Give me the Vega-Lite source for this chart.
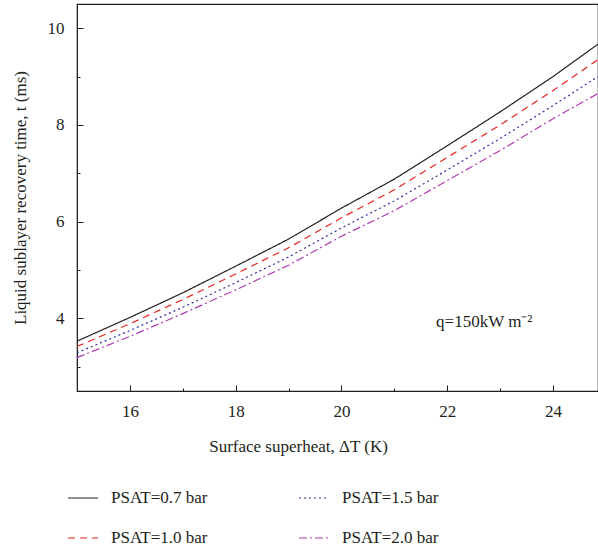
{
  "$schema": "https://vega.github.io/schema/vega-lite/v6.json",
  "autosize": "none",
  "width": 521,
  "height": 387,
  "padding": {"left": 77, "top": 4, "right": 0, "bottom": 163},
  "background": "white",
  "config": {
    "view": {"stroke": "#231f20", "strokeWidth": 1.2},
    "font": "Liberation Serif",
    "axis": {
      "labelFont": "Liberation Serif",
      "titleFont": "Liberation Serif",
      "labelFontSize": 17,
      "titleFontSize": 17,
      "titleFontWeight": "normal",
      "labelColor": "#231f20",
      "titleColor": "#231f20",
      "domainColor": "#231f20",
      "tickColor": "#231f20",
      "grid": false
    }
  },
  "data": {
    "values": [
      {"dT": 15, "t": 3.53, "series": "PSAT=0.7 bar"},
      {"dT": 16, "t": 4.02, "series": "PSAT=0.7 bar"},
      {"dT": 17, "t": 4.53, "series": "PSAT=0.7 bar"},
      {"dT": 18, "t": 5.08, "series": "PSAT=0.7 bar"},
      {"dT": 19, "t": 5.64, "series": "PSAT=0.7 bar"},
      {"dT": 20, "t": 6.28, "series": "PSAT=0.7 bar"},
      {"dT": 21, "t": 6.88, "series": "PSAT=0.7 bar"},
      {"dT": 22, "t": 7.57, "series": "PSAT=0.7 bar"},
      {"dT": 23, "t": 8.27, "series": "PSAT=0.7 bar"},
      {"dT": 24, "t": 9.0, "series": "PSAT=0.7 bar"},
      {"dT": 24.85, "t": 9.67, "series": "PSAT=0.7 bar"},
      {"dT": 15, "t": 3.42, "series": "PSAT=1.0 bar"},
      {"dT": 16, "t": 3.89, "series": "PSAT=1.0 bar"},
      {"dT": 17, "t": 4.39, "series": "PSAT=1.0 bar"},
      {"dT": 18, "t": 4.92, "series": "PSAT=1.0 bar"},
      {"dT": 19, "t": 5.46, "series": "PSAT=1.0 bar"},
      {"dT": 20, "t": 6.08, "series": "PSAT=1.0 bar"},
      {"dT": 21, "t": 6.66, "series": "PSAT=1.0 bar"},
      {"dT": 22, "t": 7.33, "series": "PSAT=1.0 bar"},
      {"dT": 23, "t": 8.0, "series": "PSAT=1.0 bar"},
      {"dT": 24, "t": 8.71, "series": "PSAT=1.0 bar"},
      {"dT": 24.85, "t": 9.35, "series": "PSAT=1.0 bar"},
      {"dT": 15, "t": 3.29, "series": "PSAT=1.5 bar"},
      {"dT": 16, "t": 3.75, "series": "PSAT=1.5 bar"},
      {"dT": 17, "t": 4.23, "series": "PSAT=1.5 bar"},
      {"dT": 18, "t": 4.74, "series": "PSAT=1.5 bar"},
      {"dT": 19, "t": 5.27, "series": "PSAT=1.5 bar"},
      {"dT": 20, "t": 5.87, "series": "PSAT=1.5 bar"},
      {"dT": 21, "t": 6.43, "series": "PSAT=1.5 bar"},
      {"dT": 22, "t": 7.07, "series": "PSAT=1.5 bar"},
      {"dT": 23, "t": 7.72, "series": "PSAT=1.5 bar"},
      {"dT": 24, "t": 8.4, "series": "PSAT=1.5 bar"},
      {"dT": 24.85, "t": 9.0, "series": "PSAT=1.5 bar"},
      {"dT": 15, "t": 3.19, "series": "PSAT=2.0 bar"},
      {"dT": 16, "t": 3.63, "series": "PSAT=2.0 bar"},
      {"dT": 17, "t": 4.1, "series": "PSAT=2.0 bar"},
      {"dT": 18, "t": 4.59, "series": "PSAT=2.0 bar"},
      {"dT": 19, "t": 5.1, "series": "PSAT=2.0 bar"},
      {"dT": 20, "t": 5.7, "series": "PSAT=2.0 bar"},
      {"dT": 21, "t": 6.23, "series": "PSAT=2.0 bar"},
      {"dT": 22, "t": 6.85, "series": "PSAT=2.0 bar"},
      {"dT": 23, "t": 7.47, "series": "PSAT=2.0 bar"},
      {"dT": 24, "t": 8.13, "series": "PSAT=2.0 bar"},
      {"dT": 24.85, "t": 8.65, "series": "PSAT=2.0 bar"}
    ]
  },
  "layer": [
    {
      "mark": {"type": "line", "strokeWidth": 1.2, "clip": true},
      "encoding": {
        "x": {
          "field": "dT", "type": "quantitative",
          "scale": {"domain": [15, 24.85], "nice": false, "zero": false},
          "axis": {
            "title": "Surface superheat, ΔT (K)",
            "values": [16, 17, 18, 19, 20, 21, 22, 23, 24],
            "format": "d",
            "labelExpr": "datum.value % 2 === 0 ? datum.label : ''",
            "tickSize": {"condition": {"test": "datum.value % 2 === 0", "value": -6}, "value": -3},
            "labelPadding": 18,
            "titleX": 221,
            "titleY": 60,
            "titleAnchor": null,
            "titleAlign": "center",
            "titleBaseline": "alphabetic"
          }
        },
        "y": {
          "field": "t", "type": "quantitative",
          "scale": {"domain": [2.5, 10.5], "nice": false, "zero": false},
          "axis": {
            "title": "Liquid sublayer recovery time, t (ms)",
            "values": [3, 4, 5, 6, 7, 8, 9, 10],
            "format": "d",
            "labelExpr": "datum.value % 2 === 0 ? datum.label : ''",
            "tickSize": {"condition": {"test": "datum.value % 2 === 0", "value": -6}, "value": -3},
            "labelPadding": 19,
            "titlePadding": 18
          }
        },
        "color": {
          "field": "series", "type": "nominal",
          "scale": {
            "domain": ["PSAT=0.7 bar", "PSAT=1.0 bar", "PSAT=1.5 bar", "PSAT=2.0 bar"],
            "range": ["#231f20", "#e8221f", "#2e2e9e", "#b03ab0"]
          },
          "legend": {
            "title": null,
            "orient": "none",
            "legendX": -10,
            "legendY": 478,
            "columns": 2,
            "columnPadding": 88,
            "rowPadding": 16,
            "symbolType": "stroke",
            "symbolSize": 900,
            "symbolStrokeWidth": 1.2,
            "labelOffset": 12,
            "labelFont": "Liberation Serif",
            "labelFontSize": 17,
            "labelColor": "#231f20"
          }
        },
        "strokeDash": {
          "field": "series", "type": "nominal",
          "scale": {
            "domain": ["PSAT=0.7 bar", "PSAT=1.0 bar", "PSAT=1.5 bar", "PSAT=2.0 bar"],
            "range": [[1, 0], [7, 5], [2, 3], [8, 3, 2, 3]]
          },
          "legend": null
        }
      }
    },
    {
      "data": {"values": [{"dT": 22.7, "t": 3.93, "label": "q=150kW m⁻²"}]},
      "mark": {"type": "text", "font": "Liberation Serif", "fontSize": 17, "color": "#231f20", "align": "center", "baseline": "middle"},
      "encoding": {
        "x": {"field": "dT", "type": "quantitative"},
        "y": {"field": "t", "type": "quantitative"},
        "text": {"field": "label"}
      }
    }
  ]
}
